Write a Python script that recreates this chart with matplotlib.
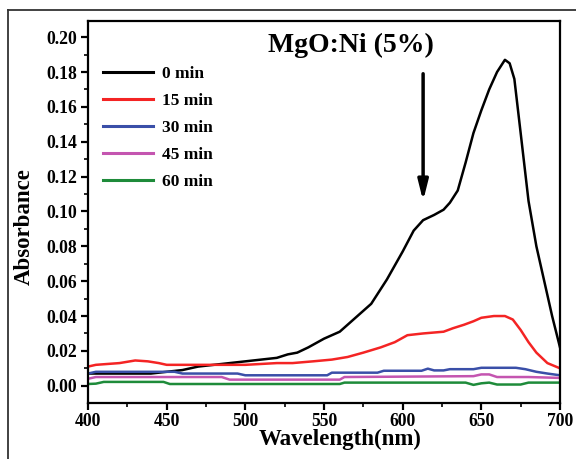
import matplotlib
matplotlib.use("Agg")
import matplotlib.pyplot as plt
from matplotlib.lines import Line2D
from matplotlib.ticker import MultipleLocator, FormatStrFormatter

plt.rcParams['font.family'] = ['Liberation Serif', 'DejaVu Serif']
plt.rcParams['font.weight'] = 'bold'

# data
wl_0 = [400, 420, 440, 450, 460, 470, 480, 490, 500, 510, 520, 527, 533, 540, 550, 560, 570, 580,
        590, 600, 607, 613, 620, 626, 630, 635, 640, 645, 650, 655, 660, 665, 668, 671, 675,
        680, 685, 690, 695, 700]
abs_0 = [0.007, 0.007, 0.007, 0.008, 0.009, 0.011, 0.012, 0.013, 0.014, 0.015, 0.016, 0.018,
         0.019, 0.022, 0.027, 0.031, 0.039, 0.047, 0.061, 0.077, 0.089, 0.095, 0.098, 0.101,
         0.105, 0.112, 0.128, 0.145, 0.158, 0.170, 0.180, 0.187, 0.185, 0.176, 0.145, 0.106,
         0.080, 0.060, 0.040, 0.022]

wl_15 = [400, 405, 420, 430, 438, 445, 450, 480, 500, 520, 530, 543, 555, 565, 575, 586, 595,
         603, 613, 626, 632, 639, 645, 650, 658, 665, 670, 675, 680, 685, 692, 700]
abs_15 = [0.011, 0.012, 0.013, 0.0145, 0.014, 0.013, 0.012, 0.012, 0.012, 0.013, 0.013, 0.014,
          0.015, 0.0165, 0.019, 0.022, 0.025, 0.029, 0.030, 0.031, 0.033, 0.035, 0.037, 0.039,
          0.040, 0.040, 0.038, 0.032, 0.025, 0.019, 0.013, 0.010]

wl_30 = [400, 405, 440, 455, 460, 490, 495, 500, 552, 555, 584, 588, 612, 616, 620, 626, 630,
         645, 650, 672, 678, 685, 692, 700]
abs_30 = [0.007, 0.008, 0.008, 0.008, 0.007, 0.007, 0.007, 0.006, 0.006, 0.0075, 0.0075, 0.0086,
          0.0086, 0.0098, 0.0088, 0.0088, 0.0095, 0.0095, 0.0103, 0.0103, 0.0095, 0.008,
          0.007, 0.006]

wl_45 = [400, 405, 485, 490, 560, 563, 645, 650, 655, 660, 680, 700]
abs_45 = [0.004, 0.005, 0.005, 0.0035, 0.0035, 0.005, 0.0055, 0.0065, 0.0065, 0.005, 0.005,
          0.0045]

wl_60 = [400, 405, 410, 448, 452, 560, 563, 640, 645, 650, 655, 660, 675, 680, 700]
abs_60 = [0.001, 0.0012, 0.0022, 0.0022, 0.001, 0.001, 0.0018, 0.0018, 0.0005, 0.0014,
          0.0018, 0.0007, 0.0007, 0.0018, 0.0018]

labels = ['0 min', '15 min', '30 min', '45 min', '60 min']
colors = ['black', '#f42424', '#3a4fa8', '#c455b0', '#1e8b3a']

fig = plt.figure(figsize=(5.76, 4.59), dpi=100)
ax = fig.add_axes([0.1528, 0.122, 0.8194, 0.832])

series = [(wl_0, abs_0), (wl_15, abs_15), (wl_30, abs_30), (wl_45, abs_45), (wl_60, abs_60)]
for (x, y), lab, c in zip(series, labels, colors):
    ax.plot(x, y, color=c, lw=1.8, label=lab)

ax.set_xlim(400, 700)
ax.set_ylim(-0.0099, 0.2092)
ax.xaxis.set_major_locator(MultipleLocator(50))
ax.xaxis.set_minor_locator(MultipleLocator(25))
ax.yaxis.set_minor_locator(MultipleLocator(0.01))
ax.set_yticks([i * 0.02 for i in range(11)])
ax.yaxis.set_major_formatter(FormatStrFormatter('%.2f'))

for s in ax.spines.values():
    s.set_linewidth(1.6)
ax.tick_params(which='major', direction='out', length=5, width=1.6, labelsize=12.7)
ax.tick_params(which='minor', direction='out', length=3, width=1.2)
ax.tick_params(axis='x', pad=2)
ax.tick_params(axis='y', pad=3)

ax.set_xlabel('Wavelength(nm)', fontsize=16.5, fontweight='bold')
ax.set_ylabel('Absorbance', fontsize=16.5, fontweight='bold')
ax.xaxis.set_label_coords(0.534, -0.068)
ax.yaxis.set_label_coords(-0.112, 0.463)

ax.text(567, 0.195, 'MgO:Ni (5%)', fontsize=20, fontweight='bold', ha='center', va='center')
ax.annotate('', xy=(613, 0.106), xytext=(613, 0.179),
            arrowprops=dict(arrowstyle='-|>,head_length=1.2,head_width=0.3', color='black',
                            lw=2.5, shrinkA=0, shrinkB=0))

leg = ax.legend(loc='upper left', bbox_to_anchor=(0.0318, 0.883), frameon=False, fontsize=12.5,
                handlelength=2.9, labelspacing=0.62, handletextpad=0.5,
                borderpad=0, borderaxespad=0)
for line in leg.get_lines():
    line.set_linewidth(2.2)

# outer frame of the original figure
fig.add_artist(Line2D([8 / 576, 1.0], [1 - 10 / 459, 1 - 10 / 459], color='#333333', lw=1.3))
fig.add_artist(Line2D([8 / 576, 8 / 576], [0, 1 - 10 / 459], color='#333333', lw=1.3))

fig.savefig('out.png', dpi=100)
